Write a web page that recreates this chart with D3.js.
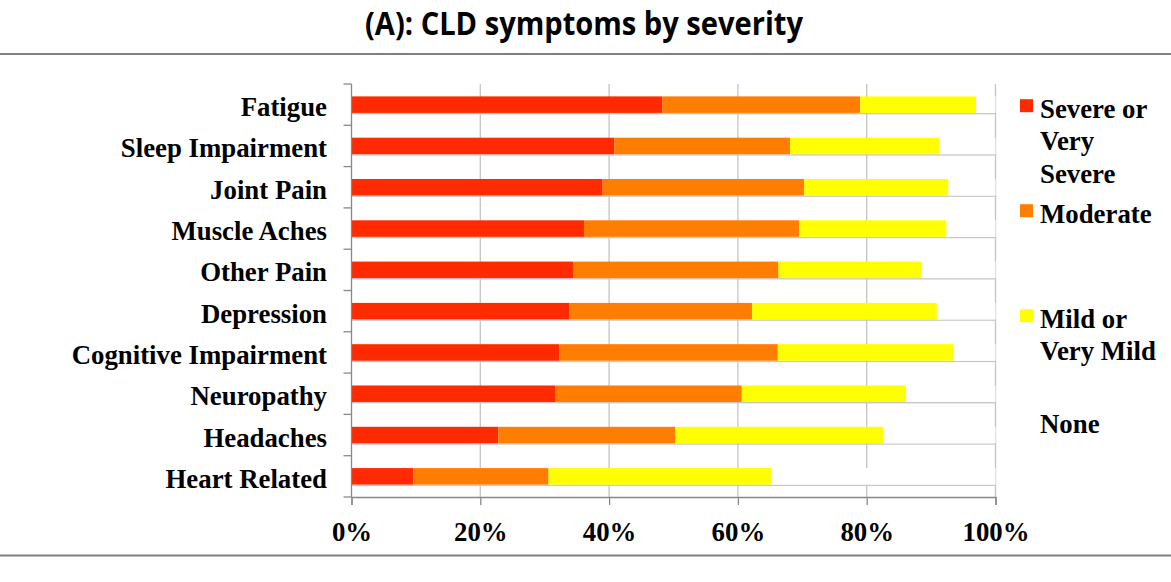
<!DOCTYPE html>
<html>
<head>
    <meta charset="UTF-8">
    <title>CLD symptoms by severity</title>
    <script src="https://d3js.org/d3.v7.min.js"></script>
    <style>
        body {
            margin: 0;
            background: #fff;
        }

        svg {
            display: block;
        }

        .lbl {
            font-family: "Liberation Serif", "Times New Roman", serif;
            font-weight: bold;
            font-size: 26.8px;
            fill: #000;
        }
    </style>
</head>
<body>
<svg id="chart" width="1171" height="582"></svg>

<script>
    // 数据
    const categories = ["Fatigue", "Sleep Impairment", "Joint Pain", "Muscle Aches", "Other Pain",
        "Depression", "Cognitive Impairment", "Neuropathy", "Headaches", "Heart Related"];
    const severe   = [48.3, 40.8, 39.0, 36.1, 34.4, 33.8, 32.3, 31.6, 22.8, 9.6];
    const moderate = [30.7, 27.3, 31.3, 33.4, 31.9, 28.4, 33.9, 29.0, 27.5, 21.0];
    const mild     = [18.0, 23.2, 22.4, 22.9, 22.2, 28.7, 27.2, 25.5, 32.3, 34.6];
    const none     = [3.0, 8.7, 7.3, 7.6, 11.5, 9.1, 6.6, 13.9, 17.4, 34.8];
    const seriesKeys = ["severe", "moderate", "mild", "none"];
    const seriesColors = ["#ff2a00", "#ff7d00", "#ffff00", "#ffffff"];
    const legendLines = [["Severe or", "Very", "Severe"], ["Moderate"], ["Mild or", "Very Mild"], ["None"]];
    const tickValues = [0, 20, 40, 60, 80, 100];

    const svg = d3.select("#chart");

    // 标题和分隔线
    svg.append("text")
        .attr("x", 584)
        .attr("y", 35)
        .attr("text-anchor", "middle")
        .attr("textLength", 438)
        .attr("lengthAdjust", "spacingAndGlyphs")
        .style("font-family", "'Open Sans', 'Liberation Sans', sans-serif")
        .style("font-weight", "bold")
        .style("font-size", "32px")
        .text("(A): CLD symptoms by severity");

    svg.append("line").attr("x1", 0).attr("x2", 1171).attr("y1", 54).attr("y2", 54)
        .attr("stroke", "#7f7f7f").attr("stroke-width", 2);
    svg.append("line").attr("x1", 0).attr("x2", 1171).attr("y1", 555.5).attr("y2", 555.5)
        .attr("stroke", "#7f7f7f").attr("stroke-width", 2);

    // 比例尺
    const x = d3.scaleLinear().domain([0, 100]).range([351.5, 995.5]);
    const y = d3.scaleBand().domain(categories).range([84, 497]).paddingInner(0.6).paddingOuter(0.3);

    const table = categories.map((c, i) => ({
        cat: c, severe: severe[i], moderate: moderate[i], mild: mild[i], none: none[i]
    }));
    const stack = d3.stack().keys(seriesKeys)(table);

    // 网格线
    svg.append("g").selectAll("line")
        .data(tickValues.slice(1))
        .join("line")
        .attr("x1", d => x(d)).attr("x2", d => x(d))
        .attr("y1", 84).attr("y2", 497)
        .attr("stroke", "#c4c4c4").attr("stroke-width", 1.3);

    // 条形阴影
    svg.append("g").selectAll("rect")
        .data(categories)
        .join("rect")
        .attr("x", x(0))
        .attr("width", x(100) - x(0))
        .attr("y", d => y(d) + y.bandwidth())
        .attr("height", 1.4)
        .attr("fill", "#c8c8c8");

    // 堆叠条形
    svg.append("g").selectAll("g")
        .data(stack)
        .join("g")
        .attr("fill", (d, i) => seriesColors[i])
        .selectAll("rect")
        .data(d => d)
        .join("rect")
        .attr("x", d => x(d[0]))
        .attr("width", d => x(d[1]) - x(d[0]))
        .attr("y", d => y(d.data.cat))
        .attr("height", y.bandwidth());

    // 左轴
    const pad = (y.step() - y.bandwidth()) / 2;
    const bounds = categories.map(c => y(c) - pad).concat([497]);
    const left = svg.append("g");
    left.append("line").attr("x1", x(0)).attr("x2", x(0)).attr("y1", 84).attr("y2", 497)
        .attr("stroke", "#888").attr("stroke-width", 1.3);
    left.selectAll(".tk")
        .data(bounds)
        .join("line")
        .attr("class", "tk")
        .attr("x1", x(0) - 8).attr("x2", x(0))
        .attr("y1", d => d).attr("y2", d => d)
        .attr("stroke", "#888").attr("stroke-width", 1.3);

    left.selectAll("text")
        .data(categories)
        .join("text")
        .attr("class", "lbl")
        .attr("x", 327)
        .attr("y", d => y(d) + y.bandwidth() / 2 + 11.5)
        .attr("text-anchor", "end")
        .text(d => d);

    // 底轴
    const bottom = svg.append("g")
        .attr("transform", "translate(0,497)")
        .call(d3.axisBottom(x).tickValues(tickValues).tickFormat(d => d + "%").tickSize(8).tickPadding(16.5));
    bottom.select(".domain").attr("stroke", "#888").attr("stroke-width", 1.3);
    bottom.selectAll(".tick line").attr("stroke", "#888").attr("stroke-width", 1.3);
    bottom.selectAll("text")
        .attr("class", "lbl")
        .attr("fill", "#000");

    // 图例
    const legend = svg.append("g");
    legendLines.forEach((lines, i) => {
        const base = 117.7 + i * 105;
        legend.append("rect")
            .attr("x", 1020)
            .attr("y", base - 18.5)
            .attr("width", 13)
            .attr("height", 13)
            .attr("fill", seriesColors[i]);
        lines.forEach((t, j) => {
            legend.append("text")
                .attr("class", "lbl")
                .attr("x", 1040)
                .attr("y", base + j * 32.5)
                .text(t);
        });
    });
</script>
</body>
</html>
